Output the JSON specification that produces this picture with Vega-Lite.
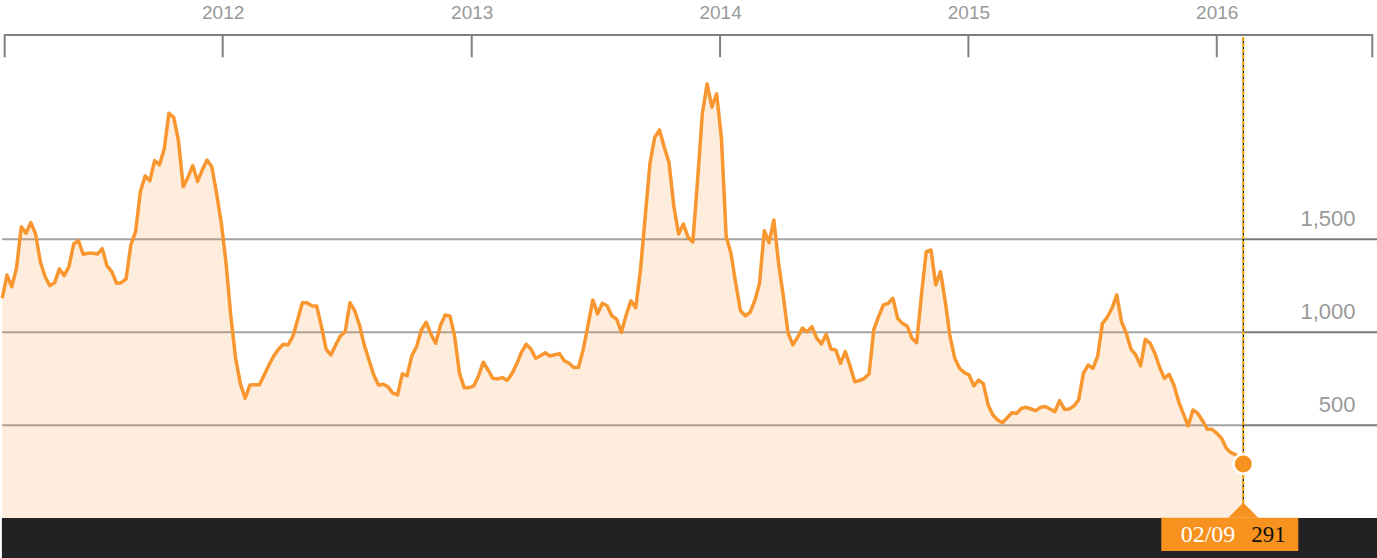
{
  "$schema": "https://vega.github.io/schema/vega-lite/v6.json",
  "width": 1377,
  "height": 523,
  "autosize": "none",
  "padding": {"top": 35, "left": 0, "right": 0, "bottom": 0},
  "background": "white",
  "config": {"view": {"stroke": null}},
  "data": {"name": "last"},
  "datasets": {
    "last": [{"date": "2016-02-09", "value": 291}],
    "grid": [{"v": 500}, {"v": 1000}, {"v": 1500}],
    "ticks": [
      {"date": "2011-02-14T14:00:00Z"},
      {"date": "2012-01-01"},
      {"date": "2013-01-01"},
      {"date": "2014-01-01"},
      {"date": "2015-01-01"},
      {"date": "2016-01-01"},
      {"date": "2016-08-16T14:00:00Z"}
    ],
    "series": [
      {"date":"2011-02-11","value":1183},{"date":"2011-02-18","value":1308},{"date":"2011-02-25","value":1245},
      {"date":"2011-03-04","value":1345},{"date":"2011-03-11","value":1568},{"date":"2011-03-18","value":1533},{"date":"2011-03-25","value":1590},
      {"date":"2011-04-01","value":1529},{"date":"2011-04-08","value":1380},{"date":"2011-04-15","value":1299},{"date":"2011-04-22","value":1251},{"date":"2011-04-29","value":1267},
      {"date":"2011-05-06","value":1341},{"date":"2011-05-13","value":1305},{"date":"2011-05-20","value":1353},{"date":"2011-05-27","value":1475},
      {"date":"2011-06-03","value":1493},{"date":"2011-06-10","value":1420},{"date":"2011-06-17","value":1425},{"date":"2011-06-24","value":1425},
      {"date":"2011-07-01","value":1421},{"date":"2011-07-08","value":1450},{"date":"2011-07-15","value":1357},{"date":"2011-07-22","value":1326},{"date":"2011-07-29","value":1264},
      {"date":"2011-08-05","value":1267},{"date":"2011-08-12","value":1287},{"date":"2011-08-19","value":1470},{"date":"2011-08-26","value":1542},
      {"date":"2011-09-02","value":1757},{"date":"2011-09-09","value":1841},{"date":"2011-09-16","value":1816},{"date":"2011-09-23","value":1924},{"date":"2011-09-30","value":1901},
      {"date":"2011-10-07","value":1985},{"date":"2011-10-14","value":2179},{"date":"2011-10-21","value":2157},{"date":"2011-10-28","value":2031},
      {"date":"2011-11-04","value":1784},{"date":"2011-11-11","value":1834},{"date":"2011-11-18","value":1897},{"date":"2011-11-25","value":1811},
      {"date":"2011-12-02","value":1874},{"date":"2011-12-09","value":1927},{"date":"2011-12-16","value":1891},{"date":"2011-12-23","value":1748},{"date":"2011-12-30","value":1587},
      {"date":"2012-01-06","value":1371},{"date":"2012-01-13","value":1084},{"date":"2012-01-20","value":860},{"date":"2012-01-27","value":722},
      {"date":"2012-02-03","value":645},{"date":"2012-02-10","value":716},{"date":"2012-02-17","value":718},{"date":"2012-02-24","value":718},
      {"date":"2012-03-02","value":770},{"date":"2012-03-09","value":824},{"date":"2012-03-16","value":872},{"date":"2012-03-23","value":909},{"date":"2012-03-30","value":935},
      {"date":"2012-04-06","value":932},{"date":"2012-04-13","value":976},{"date":"2012-04-20","value":1066},{"date":"2012-04-27","value":1159},
      {"date":"2012-05-04","value":1159},{"date":"2012-05-11","value":1142},{"date":"2012-05-18","value":1142},{"date":"2012-05-25","value":1034},
      {"date":"2012-06-01","value":909},{"date":"2012-06-08","value":878},{"date":"2012-06-15","value":932},{"date":"2012-06-22","value":980},{"date":"2012-06-29","value":1003},
      {"date":"2012-07-06","value":1159},{"date":"2012-07-13","value":1116},{"date":"2012-07-20","value":1039},{"date":"2012-07-27","value":932},
      {"date":"2012-08-03","value":851},{"date":"2012-08-10","value":770},{"date":"2012-08-17","value":716},{"date":"2012-08-24","value":720},{"date":"2012-08-31","value":707},
      {"date":"2012-09-07","value":672},{"date":"2012-09-14","value":663},{"date":"2012-09-21","value":776},{"date":"2012-09-28","value":766},
      {"date":"2012-10-05","value":874},{"date":"2012-10-12","value":923},{"date":"2012-10-19","value":1012},{"date":"2012-10-26","value":1054},
      {"date":"2012-11-02","value":991},{"date":"2012-11-09","value":941},{"date":"2012-11-16","value":1036},{"date":"2012-11-23","value":1093},{"date":"2012-11-30","value":1088},
      {"date":"2012-12-07","value":976},{"date":"2012-12-14","value":779},{"date":"2012-12-21","value":702},{"date":"2012-12-28","value":702},
      {"date":"2013-01-04","value":711},{"date":"2013-01-11","value":765},{"date":"2013-01-18","value":839},{"date":"2013-01-25","value":797},
      {"date":"2013-02-01","value":752},{"date":"2013-02-08","value":749},{"date":"2013-02-15","value":756},{"date":"2013-02-22","value":740},
      {"date":"2013-03-01","value":776},{"date":"2013-03-08","value":829},{"date":"2013-03-15","value":892},{"date":"2013-03-22","value":935},{"date":"2013-03-29","value":910},
      {"date":"2013-04-05","value":860},{"date":"2013-04-12","value":874},{"date":"2013-04-19","value":890},{"date":"2013-04-26","value":872},
      {"date":"2013-05-03","value":879},{"date":"2013-05-10","value":885},{"date":"2013-05-17","value":847},{"date":"2013-05-24","value":833},{"date":"2013-05-31","value":810},
      {"date":"2013-06-07","value":812},{"date":"2013-06-14","value":909},{"date":"2013-06-21","value":1039},{"date":"2013-06-28","value":1174},
      {"date":"2013-07-05","value":1099},{"date":"2013-07-12","value":1156},{"date":"2013-07-19","value":1143},{"date":"2013-07-26","value":1088},
      {"date":"2013-08-02","value":1070},{"date":"2013-08-09","value":1000},{"date":"2013-08-16","value":1093},{"date":"2013-08-23","value":1169},{"date":"2013-08-30","value":1132},
      {"date":"2013-09-06","value":1335},{"date":"2013-09-13","value":1622},{"date":"2013-09-20","value":1910},{"date":"2013-09-27","value":2050},
      {"date":"2013-10-04","value":2089},{"date":"2013-10-11","value":1996},{"date":"2013-10-18","value":1913},{"date":"2013-10-25","value":1680},
      {"date":"2013-11-01","value":1529},{"date":"2013-11-08","value":1583},{"date":"2013-11-15","value":1511},{"date":"2013-11-22","value":1486},{"date":"2013-11-29","value":1820},
      {"date":"2013-12-06","value":2179},{"date":"2013-12-13","value":2337},{"date":"2013-12-20","value":2211},{"date":"2013-12-27","value":2283},
      {"date":"2014-01-03","value":2044},{"date":"2014-01-10","value":1515},{"date":"2014-01-17","value":1425},{"date":"2014-01-24","value":1264},{"date":"2014-01-31","value":1116},
      {"date":"2014-02-07","value":1089},{"date":"2014-02-14","value":1106},{"date":"2014-02-21","value":1170},{"date":"2014-02-28","value":1264},
      {"date":"2014-03-07","value":1547},{"date":"2014-03-14","value":1482},{"date":"2014-03-21","value":1604},{"date":"2014-03-28","value":1371},
      {"date":"2014-04-04","value":1192},{"date":"2014-04-11","value":995},{"date":"2014-04-18","value":932},{"date":"2014-04-25","value":973},
      {"date":"2014-05-02","value":1022},{"date":"2014-05-09","value":1002},{"date":"2014-05-16","value":1030},{"date":"2014-05-23","value":968},{"date":"2014-05-30","value":937},
      {"date":"2014-06-06","value":989},{"date":"2014-06-13","value":910},{"date":"2014-06-20","value":905},{"date":"2014-06-27","value":833},
      {"date":"2014-07-04","value":896},{"date":"2014-07-11","value":819},{"date":"2014-07-18","value":734},{"date":"2014-07-25","value":740},
      {"date":"2014-08-01","value":752},{"date":"2014-08-08","value":776},{"date":"2014-08-15","value":1016},{"date":"2014-08-22","value":1084},{"date":"2014-08-29","value":1147},
      {"date":"2014-09-05","value":1156},{"date":"2014-09-12","value":1183},{"date":"2014-09-19","value":1075},{"date":"2014-09-26","value":1048},
      {"date":"2014-10-03","value":1034},{"date":"2014-10-10","value":968},{"date":"2014-10-17","value":944},{"date":"2014-10-24","value":1201},{"date":"2014-10-31","value":1434},
      {"date":"2014-11-07","value":1443},{"date":"2014-11-14","value":1255},{"date":"2014-11-21","value":1326},{"date":"2014-11-28","value":1165},
      {"date":"2014-12-05","value":976},{"date":"2014-12-12","value":860},{"date":"2014-12-19","value":806},{"date":"2014-12-26","value":783},
      {"date":"2015-01-02","value":770},{"date":"2015-01-09","value":711},{"date":"2015-01-16","value":743},{"date":"2015-01-23","value":722},{"date":"2015-01-30","value":609},
      {"date":"2015-02-06","value":555},{"date":"2015-02-13","value":528},{"date":"2015-02-20","value":513},{"date":"2015-02-27","value":540},
      {"date":"2015-03-06","value":567},{"date":"2015-03-13","value":564},{"date":"2015-03-20","value":591},{"date":"2015-03-27","value":596},
      {"date":"2015-04-03","value":587},{"date":"2015-04-10","value":578},{"date":"2015-04-17","value":596},{"date":"2015-04-24","value":600},
      {"date":"2015-05-01","value":587},{"date":"2015-05-08","value":573},{"date":"2015-05-15","value":632},{"date":"2015-05-22","value":586},{"date":"2015-05-29","value":587},
      {"date":"2015-06-05","value":603},{"date":"2015-06-12","value":636},{"date":"2015-06-19","value":779},{"date":"2015-06-26","value":824},
      {"date":"2015-07-03","value":806},{"date":"2015-07-10","value":872},{"date":"2015-07-17","value":1048},{"date":"2015-07-24","value":1081},{"date":"2015-07-31","value":1129},
      {"date":"2015-08-07","value":1201},{"date":"2015-08-14","value":1057},{"date":"2015-08-21","value":995},{"date":"2015-08-28","value":909},
      {"date":"2015-09-04","value":878},{"date":"2015-09-11","value":819},{"date":"2015-09-18","value":962},{"date":"2015-09-25","value":941},
      {"date":"2015-10-02","value":887},{"date":"2015-10-09","value":812},{"date":"2015-10-16","value":752},{"date":"2015-10-23","value":774},{"date":"2015-10-30","value":716},
      {"date":"2015-11-06","value":627},{"date":"2015-11-13","value":560},{"date":"2015-11-20","value":496},{"date":"2015-11-27","value":582},
      {"date":"2015-12-04","value":564},{"date":"2015-12-11","value":524},{"date":"2015-12-18","value":478},{"date":"2015-12-25","value":478},
      {"date":"2016-01-01","value":456},{"date":"2016-01-08","value":430},{"date":"2016-01-15","value":376},{"date":"2016-01-22","value":352},{"date":"2016-01-29","value":340},
      {"date":"2016-02-05","value":307},{"date":"2016-02-09","value":291}
    ]
  },
  "layer": [
    {
      "mark": {"type": "rect", "color": "#222222"},
      "encoding": {
        "x": {"datum": {"year": 2011, "month": 2, "date": 10, "hours": 12, "utc": true}, "type": "temporal",
              "scale": {"type": "utc", "domain": [{"year": 2011, "month": 2, "date": 7, "hours": 17, "utc": true}, {"year": 2016, "month": 8, "date": 23, "hours": 12, "utc": true}]}},
        "x2": {"datum": {"year": 2016, "month": 10, "date": 30, "utc": true}},
        "y": {"datum": 0, "type": "quantitative", "scale": {"domain": [-215, 2600], "nice": false, "zero": false}},
        "y2": {"datum": -215}
      }
    },
    {
      "data": {"name": "grid"},
      "mark": {"type": "rule", "color": "#a3a3a3", "strokeWidth": 2},
      "encoding": {
        "x": {"datum": {"year": 2011, "month": 2, "date": 11, "utc": true}, "type": "temporal"},
        "x2": {"datum": {"year": 2016, "month": 2, "date": 9, "utc": true}},
        "y": {"field": "v", "type": "quantitative"}
      }
    },
    {
      "data": {"name": "grid"},
      "mark": {"type": "rule", "color": "#7a7a7a", "strokeWidth": 2},
      "encoding": {
        "x": {"datum": {"year": 2016, "month": 2, "date": 9, "utc": true}, "type": "temporal"},
        "x2": {"datum": {"year": 2016, "month": 10, "date": 30, "utc": true}},
        "y": {"field": "v", "type": "quantitative"}
      }
    },
    {
      "data": {"name": "series"},
      "mark": {"type": "area", "color": "#F7922E", "opacity": 0.16},
      "encoding": {
        "x": {"field": "date", "type": "temporal", "title": null,
              "axis": {"orient": "top", "title": null, "domain": false, "ticks": false, "grid": false,
                       "values": [{"year": 2012, "month": 1, "date": 1, "utc": true}, {"year": 2013, "month": 1, "date": 1, "utc": true}, {"year": 2014, "month": 1, "date": 1, "utc": true}, {"year": 2015, "month": 1, "date": 1, "utc": true}, {"year": 2016, "month": 1, "date": 1, "utc": true}],
                       "format": "%Y", "labelFont": "Liberation Sans", "labelFontSize": 19, "labelColor": "#999999",
                       "labelPadding": 17, "labelBaseline": "alphabetic", "labelFlush": false, "labelOverlap": false}},
        "y": {"field": "value", "type": "quantitative", "title": null,
              "axis": {"orient": "right", "title": null, "domain": false, "ticks": false, "grid": false,
                       "values": [500, 1000, 1500], "format": ",.0f", "labelFont": "Liberation Sans", "labelFontSize": 22,
                       "labelColor": "#999999", "labelAlign": "right", "labelPadding": -22, "labelOffset": -14,
                       "labelBaseline": "alphabetic", "labelOverlap": false}},
        "y2": {"datum": 0}
      }
    },
    {
      "data": {"name": "series"},
      "mark": {"type": "line", "color": "#F8962F", "strokeWidth": 3.5, "strokeJoin": "round"},
      "encoding": {
        "x": {"field": "date", "type": "temporal"},
        "y": {"field": "value", "type": "quantitative"}
      }
    },
    {
      "mark": {"type": "rule", "color": "#808080", "strokeWidth": 2},
      "encoding": {
        "x": {"datum": {"year": 2011, "month": 2, "date": 14, "hours": 14, "utc": true}, "type": "temporal"},
        "x2": {"datum": {"year": 2016, "month": 8, "date": 16, "hours": 14, "utc": true}},
        "y": {"datum": 2600, "type": "quantitative"}
      }
    },
    {
      "data": {"name": "ticks"},
      "mark": {"type": "rule", "color": "#808080", "strokeWidth": 2},
      "encoding": {
        "x": {"field": "date", "type": "temporal"},
        "y": {"datum": 2605, "type": "quantitative"},
        "y2": {"datum": 2480}
      }
    },
    {
      "mark": {"type": "rule", "color": "#000000", "strokeWidth": 1.2},
      "encoding": {
        "x": {"datum": {"year": 2016, "month": 2, "date": 9, "utc": true}, "type": "temporal"},
        "y": {"datum": 2589, "type": "quantitative"},
        "y2": {"datum": 75}
      }
    },
    {
      "mark": {"type": "rule", "color": "#F5A700", "strokeWidth": 2, "strokeDash": [4, 2]},
      "encoding": {
        "x": {"datum": {"year": 2016, "month": 2, "date": 9, "utc": true}, "type": "temporal"},
        "y": {"datum": 2589, "type": "quantitative"},
        "y2": {"datum": 75}
      }
    },
    {
      "mark": {"type": "rect", "color": "#F7921E", "xOffset": -82, "x2Offset": 55},
      "encoding": {
        "x": {"datum": {"year": 2016, "month": 2, "date": 9, "utc": true}, "type": "temporal"},
        "x2": {"datum": {"year": 2016, "month": 2, "date": 9, "utc": true}},
        "y": {"datum": 2, "type": "quantitative"},
        "y2": {"datum": -177}
      }
    },
    {
      "mark": {"type": "point", "shape": "M-1,0L0,-1L1,0Z", "size": 900, "filled": true, "color": "#F7921E", "opacity": 1, "strokeWidth": 0},
      "encoding": {
        "x": {"datum": {"year": 2016, "month": 2, "date": 9, "utc": true}, "type": "temporal"},
        "y": {"datum": 2, "type": "quantitative"}
      }
    },
    {
      "mark": {"type": "point", "shape": "circle", "size": 380, "filled": true, "fill": "#F7921E", "stroke": "#ffffff", "strokeWidth": 2.5, "opacity": 1},
      "encoding": {
        "x": {"field": "date", "type": "temporal"},
        "y": {"field": "value", "type": "quantitative"}
      }
    },
    {
      "mark": {"type": "text", "font": "Liberation Serif", "fontSize": 24, "color": "#ffffff", "align": "right", "baseline": "alphabetic", "dx": -8},
      "encoding": {
        "x": {"field": "date", "type": "temporal"},
        "y": {"datum": -129, "type": "quantitative"},
        "text": {"field": "date", "type": "temporal", "timeUnit": "utcmonthdate", "format": "%m/%d"}
      }
    },
    {
      "mark": {"type": "text", "font": "Liberation Serif", "fontSize": 23, "color": "#111111", "align": "left", "baseline": "alphabetic", "dx": 8},
      "encoding": {
        "x": {"field": "date", "type": "temporal"},
        "y": {"datum": -129, "type": "quantitative"},
        "text": {"field": "value", "type": "quantitative"}
      }
    }
  ]
}
